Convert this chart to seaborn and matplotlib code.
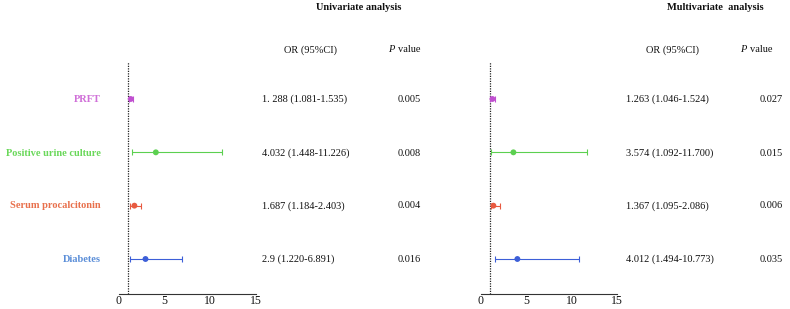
import matplotlib
matplotlib.use("Agg")
import matplotlib.pyplot as plt
import seaborn as sns
import pandas as pd

sns.set_theme(style="white")
plt.rcParams['font.family'] = ['Liberation Serif', 'DejaVu Serif']

variables = ["PRFT", "Positive urine culture", "Serum procalcitonin", "Diabetes"]
label_colors = ["#d070d8", "#6ad85a", "#e8704c", "#5b8ed8"]
mark_colors = ["#c050d0", "#5cd050", "#e85a40", "#3d5fd8"]

uni_or = [1.288, 4.032, 1.687, 2.9]
uni_lo = [1.081, 1.448, 1.184, 1.220]
uni_hi = [1.535, 11.226, 2.403, 6.891]
uni_text = ["1. 288 (1.081-1.535)", "4.032 (1.448-11.226)", "1.687 (1.184-2.403)", "2.9 (1.220-6.891)"]
uni_p = ["0.005", "0.008", "0.004", "0.016"]

multi_or = [1.263, 3.574, 1.367, 4.012]
multi_lo = [1.046, 1.092, 1.095, 1.494]
multi_hi = [1.524, 11.700, 2.086, 10.773]
multi_text = ["1.263 (1.046-1.524)", "3.574 (1.092-11.700)", "1.367 (1.095-2.086)", "4.012 (1.494-10.773)"]
multi_p = ["0.027", "0.015", "0.006", "0.035"]

xticks = [0, 5, 10, 15]

W, H = 790, 309
fig = plt.figure(figsize=(W / 100, H / 100), dpi=100)

def px(x0, y0, x1, y1):
    return [x0 / W, 1 - y1 / H, (x1 - x0) / W, (y1 - y0) / H]

row_y = [99, 153, 206, 259]
top, bottom = 62, 294
step = (row_y[-1] - row_y[0]) / 3
ylo = 3 + (bottom - row_y[-1]) / step
yhi = -(row_y[0] - top) / step

def panel(rect, ors, los, his):
    ax = fig.add_axes(rect)
    df = pd.DataFrame({"var": variables, "pos": range(len(variables)), "or": ors,
                       "lo": los, "hi": his})
    for i, r in df.iterrows():
        ax.errorbar(r["or"], r["pos"], xerr=[[r["or"] - r["lo"]], [r["hi"] - r["or"]]],
                    fmt="none", ecolor=mark_colors[i], elinewidth=0.8, capsize=2.5,
                    capthick=0.8)
    sns.scatterplot(data=df, x="or", y="pos", hue="var", palette=mark_colors,
                    legend=False, s=18, edgecolor="none", ax=ax, zorder=3)
    ax.axvline(1, color="#222222", lw=0.9, ls=(0, (1, 1)), zorder=1)
    ax.set_xlim(0, 15)
    ax.set_ylim(ylo, yhi)
    ax.set_xticks(xticks)
    ax.set_xticklabels([str(t) for t in xticks], fontsize=8.5)
    ax.set_yticks([])
    ax.set_xlabel("")
    ax.set_ylabel("")
    for s in ["top", "right", "left"]:
        ax.spines[s].set_visible(False)
    ax.spines["bottom"].set_color("#333333")
    ax.spines["bottom"].set_linewidth(0.8)
    ax.tick_params(axis="x", length=0, pad=1, colors="#111111")
    ax.patch.set_alpha(0)
    return ax

panel(px(119, top, 256, bottom), uni_or, uni_lo, uni_hi)
panel(px(481, top, 617, bottom), multi_or, multi_lo, multi_hi)

def ft(x, y, s, **kw):
    fig.text(x / W, 1 - y / H, s, va="center", **kw)

fs = 7.5
for i, v in enumerate(variables):
    ft(101, row_y[i], v, ha="right", color=label_colors[i], fontsize=fs, fontweight="bold")
    ft(262, row_y[i], uni_text[i], ha="left", fontsize=fs, color="#111111")
    ft(409, row_y[i], uni_p[i], ha="center", fontsize=fs, color="#111111")
    ft(626, row_y[i], multi_text[i], ha="left", fontsize=fs, color="#111111")
    ft(771, row_y[i], multi_p[i], ha="center", fontsize=fs, color="#111111")

ft(359, 8, "Univariate analysis", ha="center", fontsize=fs, fontweight="bold", color="#111111")
ft(715, 8, "Multivariate  analysis", ha="center", fontsize=fs, fontweight="bold", color="#111111")
ft(311, 50, "OR (95%CI)", ha="center", fontsize=fs, color="#111111")
ft(673, 50, "OR (95%CI)", ha="center", fontsize=fs, color="#111111")
for xp in (388, 740):
    ft(xp, 50, "P", ha="left", fontsize=fs, fontstyle="italic", color="#111111")
    ft(xp + 10, 50, "value", ha="left", fontsize=fs, color="#111111")

fig.savefig("out.png", dpi=100)
